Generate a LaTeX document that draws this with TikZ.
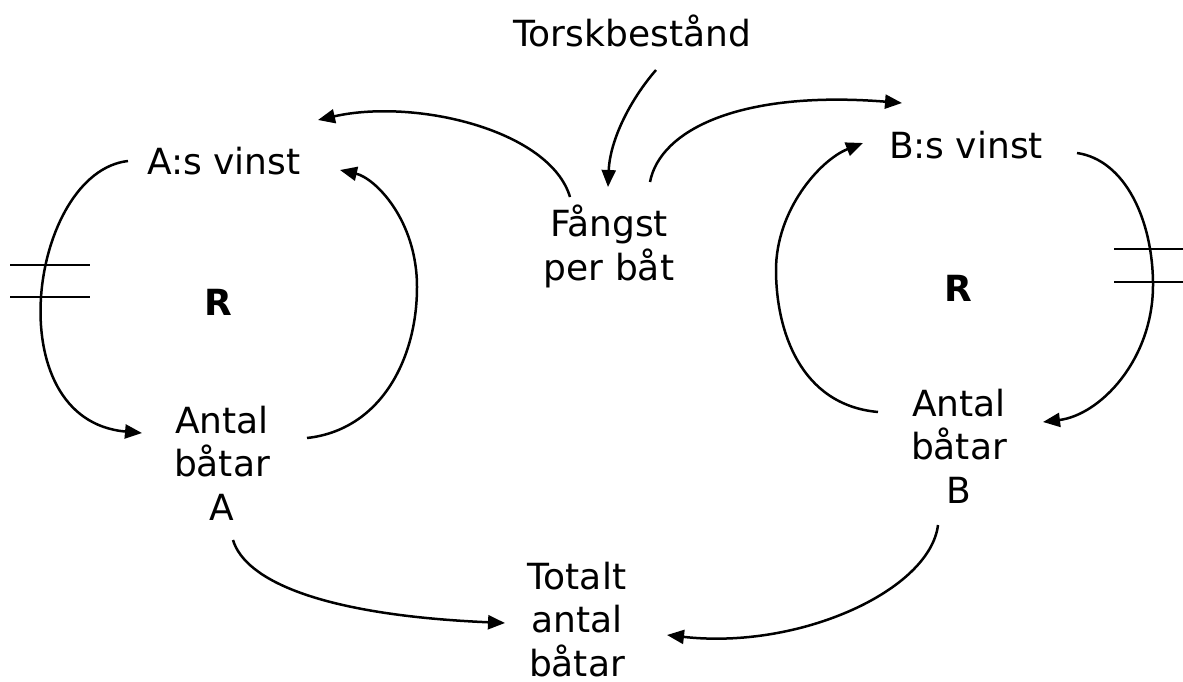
\documentclass[tikz,border=0pt]{standalone}
\usepackage{fontspec}
\setmainfont{DejaVu Sans}
\usetikzlibrary{arrows.meta,calc}
\tikzset{
  lbl/.style={inner sep=0pt, align=center, font=\fontsize{36}{43.5}\selectfont, anchor=base},
  rlbl/.style={inner sep=0pt, font=\fontsize{36}{43.5}\selectfont\bfseries, anchor=base},
  link/.style={line width=2.5pt, -{Triangle[length=17pt,width=14pt]}},
  hash/.style={line width=1.6pt}
}
\begin{document}
\begin{tikzpicture}[x=1pt,y=-1pt]
\useasboundingbox (0,0) rectangle (1183,682);
\node[lbl] (torsk) at (632,47) {Torskbestånd};
\node[lbl] (asv) at (224,175) {A:s vinst};
\node[lbl] (bsv) at (966,158) {B:s vinst};
\node[lbl] (fangst) at (609,280) {Fångst\\per båt};
\node[lbl] (antA) at (222,520) {Antal\\båtar\\A};
\node[lbl] (antB) at (959,503) {Antal\\båtar\\B};
\node[lbl] (tot) at (577,676) {Totalt\\antal\\båtar};
\node[rlbl] (rA) at (218,315) {R};
\node[rlbl] (rB) at (958,301) {R};

% A loop left: A:s vinst -> Antal A
\draw[link] ($(asv.base)+(-96,-14)$) .. controls (30,172) and (-5,420) .. ($(antA.base)+(-80,-87)$);
% A loop right: Antal A -> A:s vinst
\draw[link] ($(antA.base)+(85,-82)$) .. controls (380,430) and (417,360) .. (417,287)
  .. controls (417,220) and (375,178) .. ($(asv.base)+(116,-5)$);
% Fangst -> A:s vinst
\draw[link] ($(fangst.base)+(-39,-83)$) .. controls (550,130) and (415,98) .. ($(asv.base)+(94,-55)$);
% Torsk -> Fangst
\draw[link] ($(torsk.base)+(24,23)$) .. controls (630,100) and (610,140) .. ($(fangst.base)+(-1,-93)$);
% Fangst -> B:s vinst
\draw[link] ($(fangst.base)+(41,-98)$) .. controls (660,130) and (740,90) .. ($(bsv.base)+(-64,-55)$);
% B loop left: Antal B -> B:s vinst
\draw[link] ($(antB.base)+(-81,-91)$) .. controls (800,405) and (776,330) .. (776,270)
  .. controls (776,210) and (820,160) .. ($(bsv.base)+(-103,-15)$);
% B loop right: B:s vinst -> Antal B
\draw[link] ($(bsv.base)+(111,-5)$) .. controls (1125,160) and (1153,220) .. (1153,285)
  .. controls (1153,360) and (1100,415) .. ($(antB.base)+(84,-81)$);
% Antal A -> Totalt
\draw[link] ($(antA.base)+(11,20)$) .. controls (245,580) and (320,615) .. ($(tot.base)+(-72,-53)$);
% Antal B -> Totalt
\draw[link] ($(antB.base)+(-21,22)$) .. controls (930,590) and (800,650) .. ($(tot.base)+(90,-41)$);

% delay marks
\draw[hash] (10,265) -- (90,265);
\draw[hash] (10,297) -- (90,297);
\draw[hash] (1114,249) -- (1183,249);
\draw[hash] (1114,282) -- (1183,282);
\end{tikzpicture}
\end{document}
